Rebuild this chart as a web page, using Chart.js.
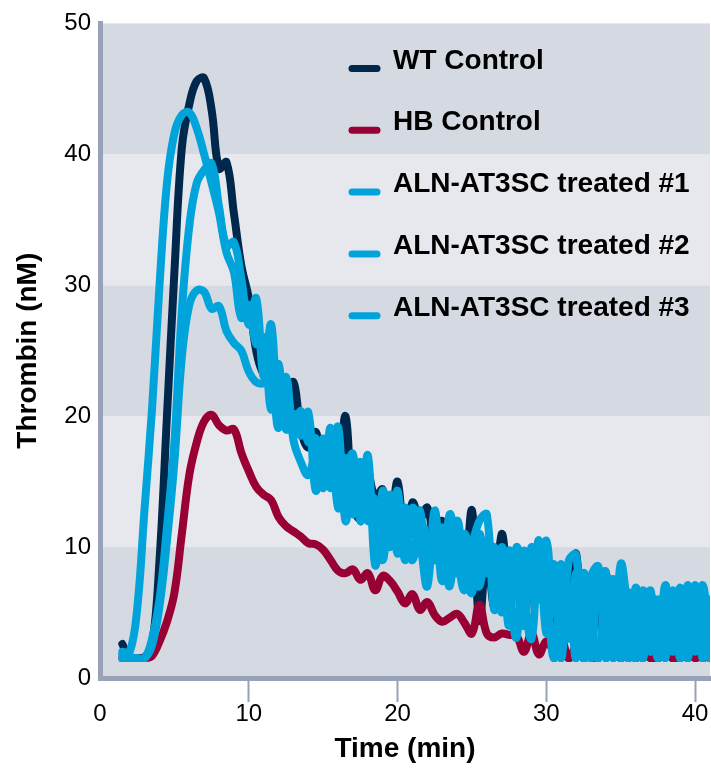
<!DOCTYPE html>
<html>
<head>
<meta charset="utf-8">
<title>Thrombin generation</title>
<script src="https://cdn.jsdelivr.net/npm/chart.js@4.4.0/dist/chart.umd.min.js"></script>
<style>
  html, body { margin: 0; padding: 0; background: #fff; }
  #wrap { width: 711px; height: 770px; }
</style>
</head>
<body>
<div id="wrap"><canvas id="thrombinChart" width="711" height="770"></canvas></div>
<script>
// sampling times (min)
const times = [
  1.5, 2, 2.5, 3, 3.5, 4, 4.5, 5, 5.5, 6,
  6.5, 7, 7.5, 8, 8.5, 9, 9.5, 10, 10.5, 11,
  11.5, 12, 12.5, 13, 13.5, 14, 14.5, 15, 15.5, 16,
  16.5, 17, 17.5, 18, 18.5, 19, 19.5, 20, 20.5, 21,
  21.5, 22, 22.5, 23, 23.5, 24, 24.5, 25, 25.5, 26,
  26.5, 27, 27.5, 28, 28.5, 29, 29.5, 30, 30.5, 31,
  31.5, 32, 32.5, 33, 33.5, 34, 34.5, 35, 35.5, 36,
  36.5, 37, 37.5, 38, 38.5, 39, 39.5, 40, 40.5, 41
];

// thrombin (nM)
const wtControl = [
  2.6, 1.5, 1.5, 1.6, 2.5, 9, 20, 31, 40.5, 43.8,
  45.6, 45.8, 43.4, 38.9, 39.4, 35.5, 31.5, 29.0, 25.0, 23.2,
  23.0, 19.8, 20.6, 22.6, 19.0, 17.6, 18.8, 16.2, 17.0, 15.2,
  20.0, 13.2, 12.2, 15.6, 13.8, 14.4, 11.5, 15.0, 10.0, 13.4,
  12.2, 13.0, 10.5, 12.0, 9.0, 11.5, 8.0, 12.8, 4.4, 9.5,
  5.5, 11.0, 7.0, 9.5, 4.5, 9.0, 6.0, 9.5, 3.0, 8.0,
  4.0, 9.5, 1.5, 7.0, 4.0, 8.0, 2.0, 7.0, 1.5, 6.0,
  2.5, 6.5, 1.5, 5.5, 1.5, 6.5, 1.5, 6.5, 1.5, 5.0
];
const hbControl = [
  1.5, 1.5, 1.5, 1.5, 1.7, 2.8, 4.3, 6.5, 11.0, 15.5,
  18.0, 19.6, 20.1, 19.3, 18.9, 19.0, 17.2, 15.8, 14.6, 14.0,
  13.6, 12.3, 11.6, 11.2, 10.8, 10.3, 10.2, 9.8, 9.0, 8.2,
  8.0, 8.3, 7.5, 8.0, 6.7, 7.8, 7.4, 6.6, 5.7, 6.4,
  5.2, 5.8, 4.8, 4.3, 4.6, 4.9, 4.2, 3.4, 5.6, 3.4,
  3.1, 3.4, 3.3, 3.2, 2.0, 3.4, 1.8, 2.8, 2.2, 3.0,
  1.5, 2.5, 3.1, 1.5, 2.2, 4.0, 2.5, 1.5, 2.4, 1.5,
  2.0, 1.5, 1.5, 2.1, 1.5, 1.5, 2.0, 1.5, 1.8, 1.5
];
const treated1 = [
  2.0, 2.0, 5.3, 13.0, 20.6, 30.0, 37.8, 41.6, 43.0, 43.2,
  42.0, 40.0, 37.8, 35.5, 32.5, 31.0, 27.5, 28.5, 25.5, 26.0,
  20.5, 24.0, 19.0, 20.2, 18.5, 20.3, 14.3, 18.3, 14.5, 19.2,
  12.0, 15.8, 12.5, 17.0, 8.6, 14.3, 11.0, 14.3, 9.0, 13.0,
  10.5, 7.0, 12.8, 7.4, 12.5, 9.5, 6.7, 10.0, 12.0, 12.5,
  5.2, 10.0, 6.5, 3.1, 9.7, 6.2, 10.5, 3.4, 8.7, 1.5,
  8.9, 9.4, 1.5, 7.7, 8.5, 1.5, 6.9, 6.7, 1.5, 6.9,
  3.0, 6.7, 1.5, 7.1, 2.0, 6.9, 1.5, 7.1, 1.5, 6.0
];
const treated2 = [
  1.8, 1.5, 1.5, 1.5, 3.0, 6.0, 11.5, 18.0, 28.0, 34.5,
  37.8, 38.8, 39.3, 36.0, 33.0, 33.3, 30.5, 27.0, 29.0, 23.0,
  27.0, 20.0, 22.0, 18.6, 20.4, 18.0, 18.3, 14.5, 19.1, 13.0,
  15.5, 17.1, 12.0, 14.0, 13.5, 9.0, 14.0, 9.5, 13.0, 11.0,
  12.8, 8.0, 11.5, 11.0, 7.0, 12.0, 8.5, 6.5, 11.0, 8.0,
  10.0, 5.0, 9.7, 8.0, 4.0, 10.0, 6.0, 10.5, 4.9, 8.7,
  3.0, 8.0, 6.0, 1.5, 7.7, 8.1, 1.5, 8.7, 5.0, 1.5,
  6.7, 2.0, 6.0, 1.5, 6.7, 1.5, 7.1, 2.0, 7.1, 1.5
];
const treated3 = [
  1.5, 1.5, 1.5, 1.5, 2.5, 5.5, 10.5, 16.5, 24.5, 28.5,
  29.6, 29.5, 28.2, 28.4, 26.5, 25.6, 25.0, 23.4, 22.6, 22.5,
  22.8, 19.1, 23.0, 18.2, 16.5, 15.5, 17.0, 15.0, 16.0, 14.0,
  16.8, 12.5, 16.5, 12.0, 12.5, 12.0, 10.0, 12.5, 11.5, 9.0,
  12.0, 10.5, 9.0, 11.5, 9.5, 8.0, 11.0, 8.5, 7.0, 10.5,
  7.5, 8.5, 4.0, 10.0, 6.0, 3.0, 9.0, 7.0, 1.5, 6.0,
  7.0, 1.5, 8.0, 4.0, 1.5, 6.5, 7.5, 1.5, 6.5, 4.0,
  1.5, 5.5, 4.5, 3.0, 5.5, 4.0, 2.0, 5.0, 3.0, 5.5
];

const seriesLabels = ['WT Control', 'HB Control', 'ALN-AT3SC treated #1', 'ALN-AT3SC treated #2', 'ALN-AT3SC treated #3'];
const seriesValues = [wtControl, hbControl, treated1, treated2, treated3];
const seriesColors = ['#00284d', '#990033', '#00a3da', '#00a3da', '#00a3da'];
// drawing order: treated curves on top, WT at the bottom
const seriesOrder = [5, 4, 3, 2, 1];

const xTicks = [0, 10, 20, 30, 40];
const yTicks = [0, 10, 20, 30, 40, 50];

const axisGray = '#97a1b7';
const fontFamily = '"Liberation Sans", Arial, Helvetica, sans-serif';
const tickFont = { family: fontFamily, size: 24 };
const titleFont = { family: fontFamily, size: 28, weight: 'bold' };

// alternating horizontal bands behind the curves
const bandPlugin = {
  id: 'bands',
  beforeDraw(chart) {
    const { ctx, chartArea: a, scales: { y } } = chart;
    ctx.save();
    for (let i = 0; i < yTicks.length - 1; i++) {
      const top = y.getPixelForValue(yTicks[i + 1]);
      const bottom = y.getPixelForValue(yTicks[i]);
      ctx.fillStyle = i % 2 === 0 ? '#d5d9e1' : '#e7e8ee';
      ctx.fillRect(a.left, top, a.right - a.left, bottom - top);
    }
    ctx.restore();
  }
};

// legend stacked inside the plot, upper right
const legendPlugin = {
  id: 'insideLegend',
  afterDraw(chart) {
    const ctx = chart.ctx;
    ctx.save();
    ctx.font = 'bold 28px ' + fontFamily;
    ctx.textBaseline = 'alphabetic';
    ctx.textAlign = 'left';
    chart.data.datasets.forEach((ds, i) => {
      const y = 68.5 + i * 61.8;
      ctx.strokeStyle = ds.borderColor;
      ctx.lineWidth = 7;
      ctx.lineCap = 'round';
      ctx.beginPath();
      ctx.moveTo(352, y);
      ctx.lineTo(377, y);
      ctx.stroke();
      ctx.fillStyle = '#000';
      ctx.fillText(ds.label, 393, y);
    });
    ctx.restore();
  }
};

const datasets = seriesLabels.map((label, i) => ({
  label: label,
  data: seriesValues[i].map((v, j) => ({ x: times[j], y: v })),
  borderColor: seriesColors[i],
  backgroundColor: seriesColors[i],
  order: seriesOrder[i],
  clip: { left: 0, top: 0, right: 0, bottom: -16 }
}));

new Chart(document.getElementById('thrombinChart'), {
  type: 'line',
  data: { datasets: datasets },
  options: {
    responsive: false,
    animation: false,
    layout: { padding: { top: 20, right: 1, left: 0, bottom: 0 } },
    plugins: {
      legend: { display: false },
      tooltip: { enabled: false }
    },
    elements: {
      point: { radius: 0 },
      line: { borderWidth: 8, tension: 0.4, borderCapStyle: 'round', borderJoinStyle: 'round', fill: false }
    },
    scales: {
      x: {
        type: 'linear',
        min: 0,
        max: 41,
        afterBuildTicks: s => { s.ticks = xTicks.map(v => ({ value: v })); },
        afterFit: s => { s.height = 92; },
        border: { color: axisGray, width: 5 },
        grid: {
          drawOnChartArea: false,
          tickLength: 24,
          tickWidth: 2,
          tickColor: c => (c.tick && c.tick.value === 0) ? 'rgba(0,0,0,0)' : axisGray
        },
        ticks: { font: tickFont, color: '#000', padding: -2, maxRotation: 0 },
        title: { display: true, text: 'Time (min)', font: titleFont, color: '#000', padding: { top: 0, bottom: 4 } }
      },
      y: {
        min: 0,
        max: 50,
        afterBuildTicks: s => { s.ticks = yTicks.map(v => ({ value: v })); },
        afterFit: s => { s.width = 100; },
        border: { color: axisGray, width: 5 },
        grid: { drawOnChartArea: false, drawTicks: false },
        ticks: { font: tickFont, color: '#000', padding: 9 },
        title: { display: true, text: 'Thrombin (nM)', font: titleFont, color: '#000', padding: { top: 11, bottom: 0 } }
      }
    }
  },
  plugins: [bandPlugin, legendPlugin]
});
</script>
</body>
</html>
